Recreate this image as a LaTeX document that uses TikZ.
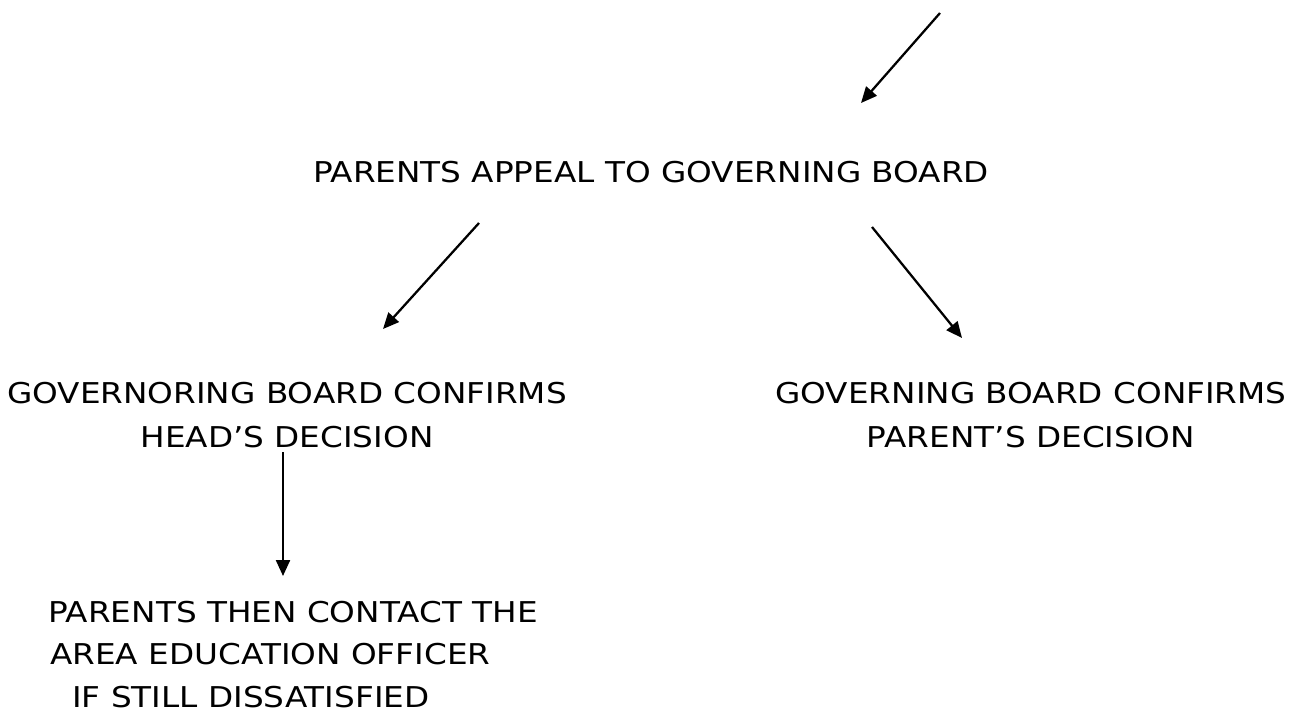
\documentclass[tikz,border=0pt]{standalone}
\usepackage{fontspec}
\setmainfont{DejaVu Sans}[FakeStretch=1.14]
\usetikzlibrary{arrows.meta}
\begin{document}
\begin{tikzpicture}[x=0.75pt,y=-0.75pt,
  lbl/.style={inner sep=0pt,font=\fontsize{21.5pt}{33pt}\selectfont,align=center},
  conn/.style={line width=1.7pt,-{Triangle[length=12pt,width=10.5pt]}}]
\useasboundingbox (0,0) rectangle (1289,719);
\node[lbl] (appeal) at (651,172) {PARENTS APPEAL TO GOVERNING BOARD};
\node[lbl] (head) at (287,415) {GOVERNORING BOARD CONFIRMS\\HEAD’S DECISION};
\node[lbl] (par) at (1031,415) {GOVERNING BOARD CONFIRMS\\PARENT’S DECISION};
\node[lbl,anchor=west] (c1) at (48,612) {PARENTS THEN CONTACT THE};
\node[lbl,anchor=west] (c2) at (50,654) {AREA EDUCATION OFFICER};
\node[lbl,anchor=west] (c3) at (72,697) {IF STILL DISSATISFIED};
\coordinate (top) at (940,13);
\coordinate (topend) at (861,103);
\coordinate (l0) at (479,223);
\coordinate (l1) at (383,329);
\coordinate (r0) at (872,227);
\coordinate (r1) at (962,338);
\coordinate (v0) at (283,452);
\coordinate (v1) at (283,576);
\draw[conn] (top) -- (topend);
\draw[conn] (l0) -- (l1);
\draw[conn] (r0) -- (r1);
\draw[conn] (v0) -- (v1);
\end{tikzpicture}
\end{document}
